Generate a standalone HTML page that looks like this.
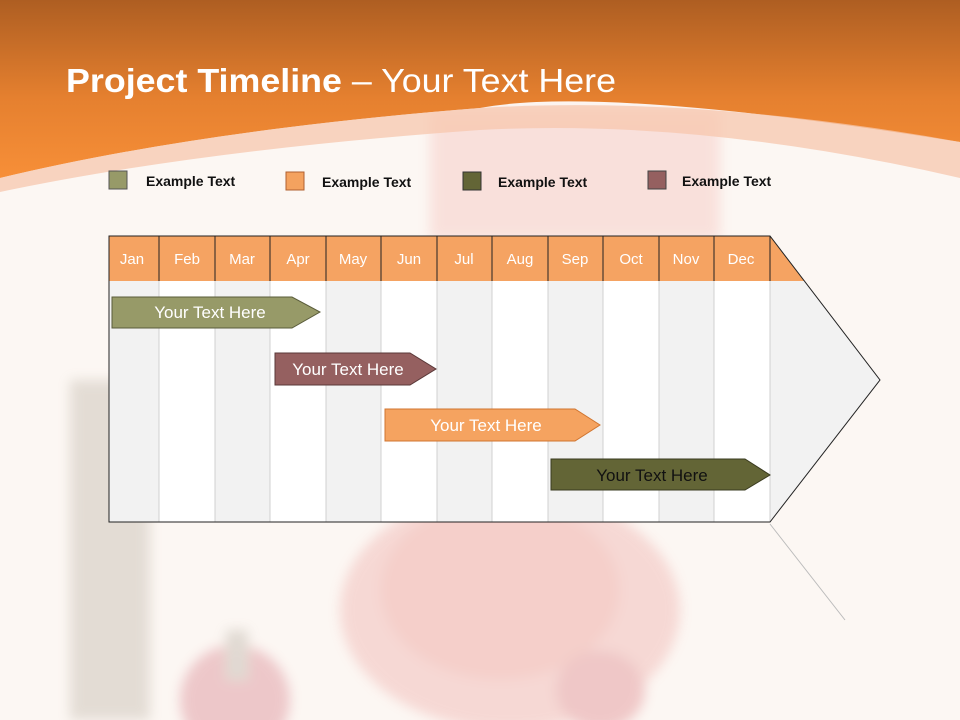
<!DOCTYPE html>
<html><head><meta charset="utf-8"><style>
body{margin:0;width:960px;height:720px;overflow:hidden;background:#fcf7f3;font-family:"Liberation Sans",sans-serif}
</style></head><body>
<svg width="960" height="720" viewBox="0 0 960 720" xmlns="http://www.w3.org/2000/svg" style="position:absolute;left:0;top:0">
<defs>
<linearGradient id="og" x1="0" y1="0" x2="0" y2="1">
<stop offset="0" stop-color="#ae5e22"/><stop offset="0.55" stop-color="#e5802f"/><stop offset="1" stop-color="#f78f38"/>
</linearGradient>
<filter id="bl"><feGaussianBlur stdDeviation="6"/></filter>
</defs>
<rect width="960" height="720" fill="#fcf7f3"/>
<g opacity="0.28" filter="url(#bl)">
<rect x="430" y="110" width="290" height="130" fill="#f2a8a0"/>
<ellipse cx="510" cy="610" rx="170" ry="120" fill="#e88a86"/>
<ellipse cx="500" cy="590" rx="120" ry="90" fill="#e46a62"/>
<rect x="70" y="380" width="80" height="340" fill="#a59a88"/>
<circle cx="235" cy="700" r="55" fill="#c85060"/>
<rect x="226" y="630" width="22" height="50" fill="#9a8f80"/>
<ellipse cx="600" cy="690" rx="45" ry="40" fill="#d05058"/>
</g>
<path d="M0 0H960V142Q600 85 480 108Q200 130 0 178Z" fill="url(#og)"/>
<path d="M0 178Q200 130 480 108Q700 95 960 142V178Q700 118 480 130Q200 150 0 192Z" fill="#f7c7ad" opacity="0.75"/>
<text x="66" y="92" fill="#fff" font-size="33" textLength="550" lengthAdjust="spacingAndGlyphs" font-family="Liberation Sans,sans-serif"><tspan font-weight="bold">Project Timeline</tspan> – Your Text Here</text>
<g font-size="14" font-weight="bold" fill="#111">
<rect x="109" y="171" width="18" height="18" fill="#979a68" stroke="#555"/><text x="146" y="186">Example Text</text>
<rect x="286" y="172" width="18" height="18" fill="#f4a25f" stroke="#b06030"/><text x="322" y="187">Example Text</text>
<rect x="463" y="172" width="18" height="18" fill="#636536" stroke="#333"/><text x="498" y="187">Example Text</text>
<rect x="648" y="171" width="18" height="18" fill="#956060" stroke="#444"/><text x="682" y="186">Example Text</text>
</g>
<path d="M109 236H770L880 380L770 522H109Z" fill="#f2f2f2"/>
<g fill="#fff">
<rect x="159" y="281" width="56" height="241"/><rect x="270" y="281" width="56" height="241"/>
<rect x="381" y="281" width="56" height="241"/><rect x="492" y="281" width="56" height="241"/>
<rect x="603" y="281" width="56" height="241"/><rect x="714" y="281" width="56" height="241"/>
</g>
<path d="M109 236H770L804 281H109Z" fill="#f5a362"/>
<g stroke="#d0d0d0" stroke-width="1">
<path d="M159 281V522M215 281V522M270 281V522M326 281V522M381 281V522M437 281V522M492 281V522M548 281V522M603 281V522M659 281V522M714 281V522M770 281V522"/>
</g>
<g stroke="#222" stroke-width="1">
<path d="M159 236V281M215 236V281M270 236V281M326 236V281M381 236V281M437 236V281M492 236V281M548 236V281M603 236V281M659 236V281M714 236V281M770 236V281"/>
<path d="M109 522V236H770L880 380L770 522Z" fill="none"/>
</g>
<path d="M770 524L845 620" stroke="#bbb" stroke-width="1"/>
<g fill="#fff" font-size="15" text-anchor="middle">
<text x="132" y="264">Jan</text><text x="187" y="264">Feb</text><text x="242" y="264">Mar</text><text x="298" y="264">Apr</text>
<text x="353" y="264">May</text><text x="409" y="264">Jun</text><text x="464" y="264">Jul</text><text x="520" y="264">Aug</text>
<text x="575" y="264">Sep</text><text x="631" y="264">Oct</text><text x="686" y="264">Nov</text><text x="741" y="264">Dec</text>
</g>
<path d="M112 297H292L320 312L292 328H112Z" fill="#979a68" stroke="#5a5c3a"/>
<text x="210" y="318" fill="#fff" font-size="17" text-anchor="middle">Your  Text Here</text>
<path d="M275 353H410L436 369L410 385H275Z" fill="#956060" stroke="#5a3838"/>
<text x="348" y="375" fill="#fff" font-size="17" text-anchor="middle">Your  Text Here</text>
<path d="M385 409H575L600 425L575 441H385Z" fill="#f5a360" stroke="#d07530"/>
<text x="486" y="431" fill="#fff" font-size="17" text-anchor="middle">Your  Text Here</text>
<path d="M551 459H745L770 475L745 490H551Z" fill="#636536" stroke="#3a3b20"/>
<text x="652" y="481" fill="#111" font-size="17" text-anchor="middle">Your  Text Here</text>
</svg>
</body></html>
